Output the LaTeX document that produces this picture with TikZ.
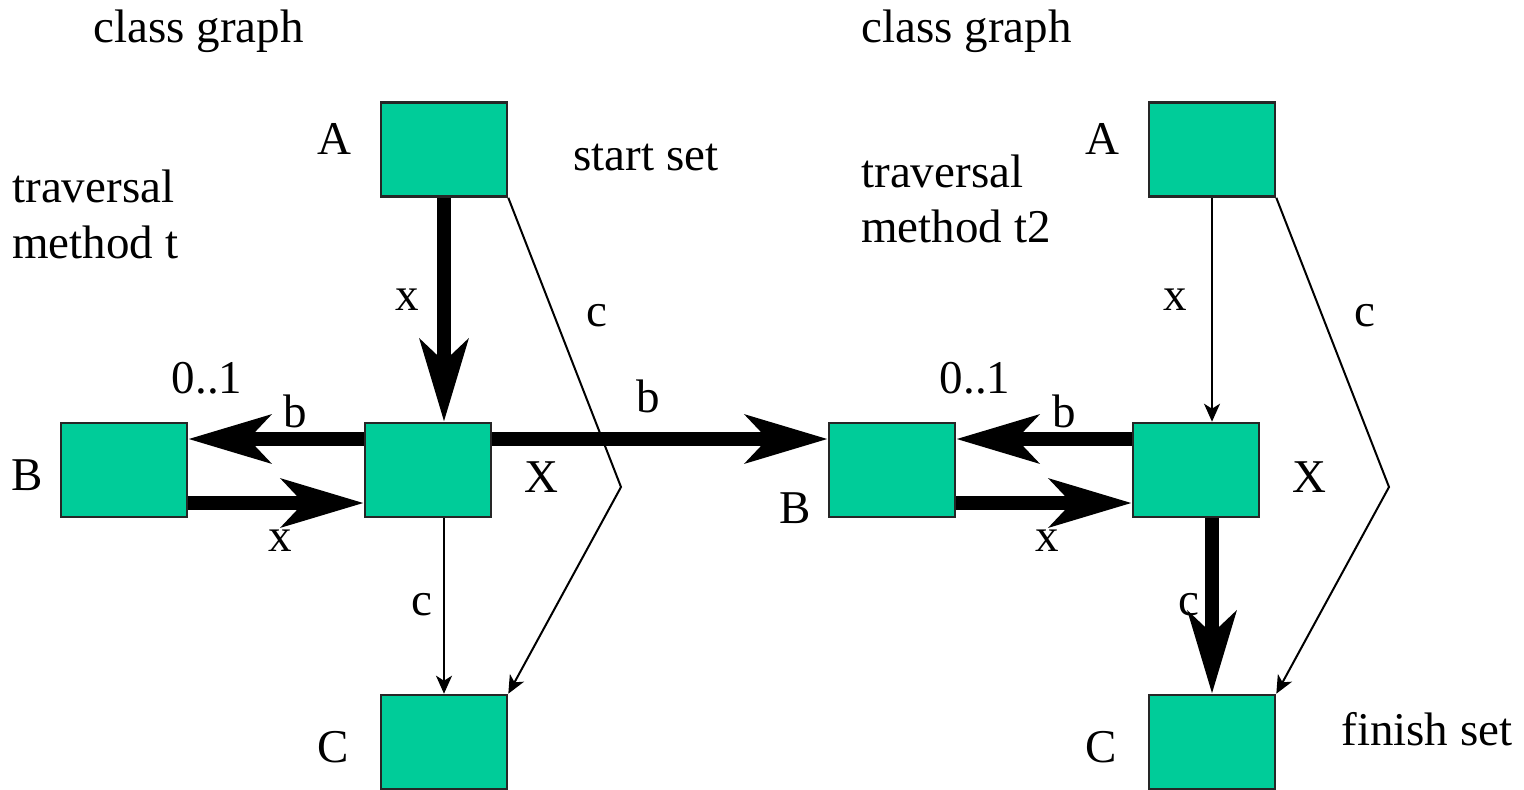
\documentclass[tikz,border=0pt]{standalone}
\usepackage{fontspec}
\setmainfont{Liberation Serif}
\usetikzlibrary{arrows.meta}
\definecolor{boxfill}{HTML}{00CC99}
\tikzset{
  cls/.style={draw=black!85, line width=1.3pt, fill=boxfill, minimum width=63pt, minimum height=47pt, inner sep=0pt},
  lbl/.style={inner sep=0pt, font=\fontsize{23.5}{28}\selectfont},
  thick arr/.style={line width=6.8pt, -{Stealth[length=41pt,width=24pt,inset=11pt]}},
  thin arr/.style={line width=1pt, -{Stealth[length=9pt,width=8pt,inset=2.5pt]}},
  thin line/.style={line width=1pt}
}
\begin{document}
\begin{tikzpicture}[x=0.5pt,y=-0.5pt]
\useasboundingbox (0,0) rectangle (1524,789);
% left graph boxes
\node[cls] (A) at (444,149.5) {};
\node[cls] (B) at (124,470) {};
\node[cls] (X) at (428,470) {};
\node[cls] (C) at (444,742) {};
% right graph boxes
\node[cls] (A2) at (1212,149.5) {};
\node[cls] (B2) at (892,470) {};
\node[cls] (X2) at (1196,470) {};
\node[cls] (C2) at (1212,742) {};
% helper coordinates
\coordinate (bend) at (621,487);
\coordinate (bend2) at (1389,487);
% left edges
\draw[thick arr] (A.south) -- (A.south |- X.north);
\draw[thick arr] ([yshift=15.5pt]X.west) -- ([yshift=15.5pt]B.east);
\draw[thick arr] ([yshift=-16.5pt]B.east) -- ([yshift=-16.5pt]X.west);
\draw[thick arr] ([yshift=15.5pt]X.east) -- ([yshift=15.5pt]B2.west);
\draw[thin arr] (X.south -| C.north) -- (C.north);
\draw[thin arr] (A.south east) -- (bend) -- (C.north east);
% right edges
\draw[thin arr] (A2.south) -- (A2.south |- X2.north);
\draw[thick arr] ([yshift=15.5pt]X2.west) -- ([yshift=15.5pt]B2.east);
\draw[thick arr] ([yshift=-16.5pt]B2.east) -- ([yshift=-16.5pt]X2.west);
\draw[thick arr] (X2.south -| C2.north) -- (C2.north);
\draw[thin arr] (A2.south east) -- (bend2) -- (C2.north east);
% left labels
\node[lbl, anchor=base west] (t1) at (93,42) {class graph};
\node[lbl] (lA) at (334,139) {A};
\node[lbl, anchor=base west] (ss) at (573,170) {start set};
\node[lbl, anchor=base west] (tr1) at (12,202) {traversal};
\node[lbl, anchor=base west] (mt1) at (12,258) {method t};
\node[lbl] (lx1) at (407,300) {x};
\node[lbl] (lc1) at (597,316) {c};
\node[lbl] (l01) at (207,378) {0..1};
\node[lbl] (lb1) at (295,411) {b};
\node[lbl] (lb2) at (648,396) {b};
\node[lbl] (lB) at (27,475) {B};
\node[lbl] (lX) at (541,477) {X};
\node[lbl] (lx2) at (280,541) {x};
\node[lbl] (lc2) at (422,605) {c};
\node[lbl] (lC) at (333,747) {C};
% right labels
\node[lbl, anchor=base west] (t2) at (861,42) {class graph};
\node[lbl] (rA) at (1102,139) {A};
\node[lbl, anchor=base west] (tr2) at (861,187) {traversal};
\node[lbl, anchor=base west] (mt2) at (861,242) {method t2};
\node[lbl] (rx1) at (1175,300) {x};
\node[lbl] (rc1) at (1365,316) {c};
\node[lbl] (r01) at (975,378) {0..1};
\node[lbl] (rb1) at (1064,411) {b};
\node[lbl] (rB) at (795,508) {B};
\node[lbl] (rX) at (1309,477) {X};
\node[lbl] (rx2) at (1047,541) {x};
\node[lbl] (rc2) at (1189,605) {c};
\node[lbl] (rC) at (1101,747) {C};
\node[lbl, anchor=base west] (fs) at (1341,745) {finish set};
\end{tikzpicture}
\end{document}
